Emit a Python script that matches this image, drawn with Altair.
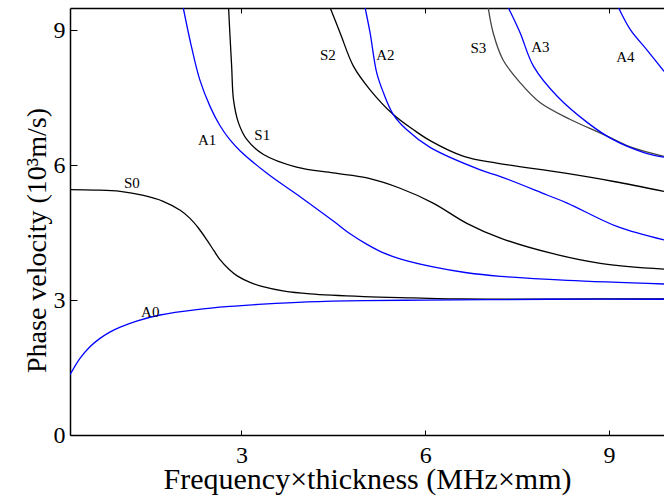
import altair as alt
import pandas as pd

# ---- data (x: MHz*mm, y: 10^3 m/s) ----
S0_x = [0.2, 0.6, 1.02, 1.4, 1.72, 2.0, 2.16, 2.3, 2.44, 2.55, 2.65, 2.8, 2.93, 3.15, 3.35, 3.7, 4.12, 5.0, 5.8, 6.4, 7.0, 8.0, 9.9]
S0_y = [5.46, 5.45, 5.42, 5.33, 5.2, 5.0, 4.82, 4.6, 4.33, 4.1, 3.9, 3.68, 3.54, 3.39, 3.3, 3.2, 3.14, 3.08, 3.05, 3.03, 3.025, 3.025, 3.03]

S1_x = [2.79, 2.81, 2.84, 2.87, 2.95, 3.09, 3.36, 3.9, 4.5, 5.05, 5.59, 6.13, 6.68, 7.23, 8.04, 8.86, 9.9]
S1_y = [9.5, 8.95, 8.2, 7.46, 6.95, 6.57, 6.24, 5.96, 5.83, 5.72, 5.49, 5.16, 4.71, 4.38, 4.05, 3.82, 3.69]

S2_x = [4.45, 4.61, 4.83, 5.1, 5.48, 5.81, 6.08, 6.63, 7.17, 8.26, 9.08, 9.9]
S2_y = [9.5, 8.95, 8.2, 7.68, 7.13, 6.79, 6.55, 6.2, 6.05, 5.83, 5.64, 5.42]

S3_x = [7.03, 7.11, 7.27, 7.55, 7.88, 8.37, 8.91, 9.35, 9.9]
S3_y = [9.5, 8.95, 8.35, 7.84, 7.39, 7.02, 6.69, 6.41, 6.2]

A0_x = [0.2, 0.36, 0.53, 0.69, 0.85, 1.02, 1.3, 1.67, 2.27, 2.81, 3.35, 4.07, 5.0, 6.0, 7.0, 8.0, 9.9]
A0_y = [1.34, 1.70, 1.97, 2.15, 2.29, 2.40, 2.54, 2.67, 2.79, 2.86, 2.91, 2.96, 2.99, 3.0, 3.01, 3.02, 3.02]

A1_x = [2.05, 2.19, 2.32, 2.49, 2.65, 2.81, 2.98, 3.41, 3.98, 4.5, 4.78, 5.05, 5.32, 5.59, 6.13, 6.68, 7.23, 8.32, 9.9]
A1_y = [9.5, 8.6, 7.9, 7.3, 6.88, 6.57, 6.32, 5.83, 5.28, 4.76, 4.47, 4.24, 4.05, 3.92, 3.74, 3.61, 3.53, 3.44, 3.36]

A2_x = [5.02, 5.1, 5.21, 5.32, 5.48, 5.7, 6.08, 6.9, 7.23, 7.99, 8.32, 9.13, 9.9]
A2_y = [9.5, 8.95, 8.05, 7.61, 7.13, 6.79, 6.4, 5.9, 5.75, 5.34, 5.16, 4.64, 4.34]

A3_x = [7.36, 7.55, 7.77, 8.16, 8.65, 9.07, 9.56, 9.9]
A3_y = [9.5, 8.95, 8.2, 7.53, 6.95, 6.57, 6.29, 6.18]

A4_x = [9.16, 9.35, 9.62, 9.9]
A4_y = [9.5, 9.02, 8.57, 8.09]

S_labels = ["S0", "S1", "S2", "S3"]
S_label_x = [1.21, 3.34, 4.41, 6.87]
S_label_y = [5.6, 6.68, 8.46, 8.62]

A_labels = ["A0", "A1", "A2", "A3", "A4"]
A_label_x = [1.51, 2.44, 5.35, 7.88, 9.27]
A_label_y = [2.74, 6.57, 8.46, 8.64, 8.42]

x_ticks = [3, 6, 9]
y_ticks = [0, 3, 6, 9]

FONT = "Liberation Serif"


def frame(modes):
    rows = []
    for name, xs, ys, col in modes:
        for i, (a, b) in enumerate(zip(xs, ys)):
            rows.append({"mode": name, "order": i, "fd": a, "v": b, "col": col})
    return pd.DataFrame(rows)


s_df = frame([
    ("S0", S0_x, S0_y, "#000000"),
    ("S1", S1_x, S1_y, "#000000"),
    ("S2", S2_x, S2_y, "#000000"),
    ("S3", S3_x, S3_y, "#444444"),
])
a_df = frame([
    ("A0", A0_x, A0_y, "#0000ff"),
    ("A1", A1_x, A1_y, "#0000ff"),
    ("A2", A2_x, A2_y, "#0000ff"),
    ("A3", A3_x, A3_y, "#0000ff"),
    ("A4", A4_x, A4_y, "#0000ff"),
])
sl_df = pd.DataFrame({"t": S_labels, "fd": S_label_x, "v": S_label_y})
al_df = pd.DataFrame({"t": A_labels, "fd": A_label_x, "v": A_label_y})

xscale = alt.Scale(domain=[0.2, 9.9], nice=False, zero=False)
yscale = alt.Scale(domain=[0, 9.5], nice=False, zero=False)

# main axes: domain + labels + titles
x_main = alt.Axis(orient="bottom", values=x_ticks, ticks=False, tickSize=0, grid=False,
                  domain=True, labelPadding=8, title="Frequency×thickness (MHz×mm)",
                  titleX=297, titleY=53, titleBaseline="alphabetic")
y_main = alt.Axis(orient="left", values=y_ticks, ticks=False, tickSize=0, grid=False,
                  domain=True, labelPadding=5, title="Phase velocity (10³m/s)",
                  titleX=-25, titleY=232, titleBaseline="alphabetic", titleAngle=270,
                  titleFontSize=28)
# inward tick axes
x_ticks_ax = alt.Axis(orient="bottom", values=x_ticks, ticks=True, tickSize=5, offset=-5,
                      domain=False, labels=False, grid=False, title=None)
y_ticks_ax = alt.Axis(orient="left", values=y_ticks, ticks=True, tickSize=7, offset=-7,
                      domain=False, labels=False, grid=False, title=None)
x_top = alt.Axis(orient="top", values=x_ticks, ticks=False, domain=True, labels=False,
                 grid=False, title=None)
x_top_ticks = alt.Axis(orient="top", values=x_ticks, ticks=True, tickSize=5, offset=-5,
                       domain=False, labels=False, grid=False, title=None)

s_lines = alt.Chart(s_df).mark_line(strokeWidth=1.3, clip=True, interpolate="catmull-rom").encode(
    x=alt.X("fd:Q", scale=xscale, axis=x_main),
    y=alt.Y("v:Q", scale=yscale, axis=y_main),
    detail="mode:N",
    order="order:Q",
    color=alt.Color("col:N", scale=None),
)
a_lines = alt.Chart(a_df).mark_line(strokeWidth=1.3, clip=True, interpolate="catmull-rom").encode(
    x=alt.X("fd:Q", scale=xscale, axis=x_ticks_ax),
    y=alt.Y("v:Q", scale=yscale, axis=y_ticks_ax),
    detail="mode:N",
    order="order:Q",
    color=alt.Color("col:N", scale=None),
)
s_text = alt.Chart(sl_df).mark_text(font=FONT, fontSize=15, color="black").encode(
    x=alt.X("fd:Q", scale=xscale, axis=x_top),
    y=alt.Y("v:Q", scale=yscale, axis=None),
    text="t:N",
)
a_text = alt.Chart(al_df).mark_text(font=FONT, fontSize=15, color="black").encode(
    x=alt.X("fd:Q", scale=xscale, axis=x_top_ticks),
    y=alt.Y("v:Q", scale=yscale, axis=None),
    text="t:N",
)

chart = alt.layer(s_lines, a_lines, s_text, a_text).resolve_axis(
    x="independent", y="independent"
).properties(
    width=594, height=427,
    padding={"left": 70, "top": 8, "right": 0, "bottom": 64},
    autosize=alt.AutoSizeParams(type="none"),
).configure_view(stroke=None).configure_axis(
    labelFont=FONT, labelFontSize=24, labelColor="black",
    titleFont=FONT, titleFontSize=30, titleFontWeight="normal", titleColor="black",
    domainColor="black", domainWidth=1.5, tickColor="black", tickWidth=1,
)

chart.save("out.html", embed_options={"renderer": "svg", "actions": False})
